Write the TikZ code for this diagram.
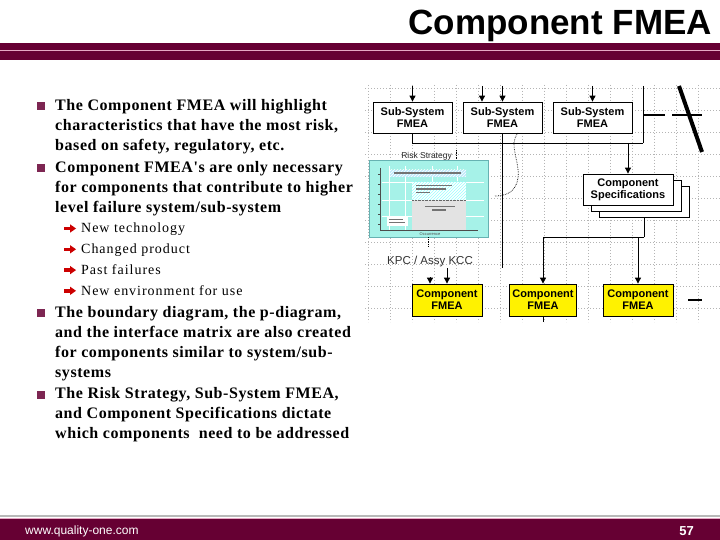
\documentclass[tikz,border=0pt]{standalone}
\usepackage{fontspec}
\setmainfont{Liberation Serif}
\newfontfamily\arialfont{Liberation Sans}
\newfontfamily\bulletfont[LetterSpace=3.5]{Liberation Serif}
\newfontfamily\subfont[LetterSpace=7]{Liberation Serif}
\usepackage{xcolor}
\usepackage{tikz}
\usetikzlibrary{calc,arrows.meta,patterns}
\definecolor{maroon}{HTML}{660033}
\definecolor{pinkline}{HTML}{E6A8C4}
\definecolor{riskcyan}{HTML}{A6F2E8}
\definecolor{gridgray}{HTML}{B4B4B4}

\begin{document}
\begin{tikzpicture}[x=1pt, y=-1pt,
  conn/.style={black, line width=0.9pt},
  arr/.style={conn, -{Triangle[width=6pt,length=6pt]}},
  dotconn/.style={black, line width=0.7pt, densely dotted},
  gridline/.style={gridgray, line width=0.7pt, dash pattern=on 1pt off 2pt},
  ssbox/.style={draw, line width=0.8pt, fill=white, minimum width=79pt, minimum height=31pt,
    inner sep=0pt, align=center, font=\arialfont\bfseries\fontsize{11}{12}\selectfont},
  cfbox/.style={ssbox, fill=yellow, minimum width=70pt, minimum height=32pt},
  sheet/.style={draw, line width=0.8pt, fill=white, minimum width=90pt, minimum height=31pt, inner sep=0pt},
  bullettext/.style={anchor=north west, inner sep=0pt, align=left,
    font=\bulletfont\bfseries\fontsize{16}{20}\selectfont},
  subtext/.style={anchor=base west, inner sep=0pt, font=\subfont\fontsize{14}{16}\selectfont}]
  \useasboundingbox (0,0) rectangle (720,540);
  \fill[white] (0,0) rectangle (720,540);
  % Header
  \node[font=\arialfont\bfseries\fontsize{35}{38}\selectfont, anchor=base east, inner sep=0pt] (title) at (712,35) {Component FMEA};
  \fill[maroon] (0,43) rectangle (720,60);
  \draw[pinkline, line width=1pt] (0,50.5) -- (720,50.5);
  % Footer
  \draw[gray!55, line width=1.5pt] (0,516) -- (720,516);
  \fill[maroon] (0,519) rectangle (720,540);
  \draw[pinkline, line width=0.8pt] (0,518.5) -- (720,518.5);
  \node[font=\arialfont\fontsize{12}{13}\selectfont, text=white, anchor=base west, inner sep=0pt] (url) at (25,534) {www.quality-one.com};
  \node[font=\arialfont\bfseries\fontsize{13}{14}\selectfont, text=white, anchor=base east, inner sep=0pt] (page) at (694,535) {57};
  % Bullets
  \fill[maroon!85] (37,102.5) rectangle (45,110.5);
  \node[bullettext] (b1) at (55,99.5) {The Component FMEA will highlight\\characteristics that have the most risk,\\based on safety, regulatory, etc.};
  \fill[maroon!85] (37,164) rectangle (45,172);
  \node[bullettext] (b2) at (55,161) {Component FMEA's are only necessary\\for components that contribute to higher\\level failure system/sub-system};
  \fill[maroon!85] (37,309) rectangle (45,317);
  \node[bullettext] (b3) at (55,306) {The boundary diagram, the p-diagram,\\and the interface matrix are also created\\for components similar to system/sub-\\systems};
  \fill[maroon!85] (37,390.5) rectangle (45,398.5);
  \node[bullettext] (b4) at (55,387.5) {The Risk Strategy, Sub-System FMEA,\\and Component Specifications dictate\\which components\ \ need to be addressed};
  % Sub bullets
  \foreach \yy/\txt/\nm in {232.7/New technology/s1, 253.5/Changed product/s2, 274.3/Past failures/s3, 295/New environment for use/s4} {
    \fill[red!80!black] (64,\yy-6) rectangle (70,\yy-2.4);
    \fill[red!80!black] (70,\yy-8.4) -- (76,\yy-4.2) -- (70,\yy) -- cycle;
    \node[subtext] (\nm) at (81,\yy) {\txt};
  }
  % Diagram background grid
  \foreach \xx in {368,390,...,720} \draw[gridline] (\xx,85) -- (\xx,322);
  \foreach \yy in {88,110,...,322} \draw[gridline] (365,\yy) -- (720,\yy);
  % Risk strategy picture
  \node[draw=teal!60, fill=riskcyan, minimum width=119pt, minimum height=77pt, inner sep=0pt] (risk) at (428.5,198.5) {};
  \foreach \xx in {389,405,432,457} \draw[white, line width=0.8pt] (\xx,166) -- (\xx,230);
  \foreach \yy in {182,200,216} \draw[white, line width=0.8pt] (382,\yy) -- (484,\yy);
  \fill[gray!22] (412,182) rectangle (466,230);
  \fill[white] (412,182) rectangle (466,200);
  \path[pattern=north east lines, pattern color=cyan!40] (412,182) rectangle (466,200);
  \draw[black!60, densely dotted] (412,200) -- (466,200);
  \fill[cyan!25] (390,170) rectangle (466,177);
  \path[pattern=north east lines, pattern color=white] (390,170) rectangle (466,177);
  \fill[black!55] (394,172.5) rectangle (461,174.5);
  \fill[black!55] (416,185) rectangle (452,186.2);
  \fill[black!55] (416,188.5) rectangle (446,189.7);
  \fill[black!55] (416,192) rectangle (430,193.2);
  \fill[black!55] (425,206) rectangle (455,207.2);
  \fill[black!55] (432,209.5) rectangle (446,210.7);
  \fill[white] (387,216) rectangle (408,226);
  \fill[black!55] (389,219) rectangle (403,220);
  \fill[black!55] (389,222) rectangle (405,223);
  \draw[black!70, line width=0.6pt] (380,168) -- (380,230) -- (478,230);
  \foreach \yy in {174,184,194,204,214,224} \draw[black!70] (378,\yy) -- (380,\yy);
  \node[font=\arialfont\fontsize{4}{4}\selectfont, text=black!70, inner sep=0pt] (occ) at (430,234.5) {Occurrence};
  \node[font=\arialfont\fontsize{8.5}{9}\selectfont, text=black!85, anchor=base east, inner sep=0pt] (risklbl) at (452,158.5) {Risk Strategy};
  \draw[dotconn] (456,150) -- (456,160);
  \draw[dotconn] (risk.south) -- ++(0,10);
  \node[font=\arialfont\fontsize{11.5}{12}\selectfont, text=black!80, inner sep=0pt] (kpc) at (430,262) {KPC / Assy KCC};
  % Sub-system FMEA boxes
  \node[ssbox] (ss1) at (412.5,117.5) {Sub-System\\FMEA};
  \node[ssbox] (ss2) at (502.5,117.5) {Sub-System\\FMEA};
  \node[ssbox] (ss3) at (592.5,117.5) {Sub-System\\FMEA};
  \coordinate (ss1in) at (412.5,86);
  \coordinate (ss2ina) at (482,86);
  \coordinate (ss2inb) at (502.5,86);
  \coordinate (ss3in) at (592.5,86);
  \draw[arr] (ss1in) -- (ss1.north);
  \draw[arr] (ss2ina) -- (ss2.north -| ss2ina);
  \draw[arr] (ss2inb) -- (ss2.north);
  \draw[arr] (ss3in) -- (ss3.north);
  % Component specifications stack
  \node[sheet] (cs3) at (644,201.5) {};
  \node[sheet] (cs2) at (636,195.5) {};
  \node[ssbox, minimum width=90pt] (cs) at (628,189.5) {Component\\Specifications};
  % Component FMEA boxes
  \node[cfbox] (cf1) at (447,300) {Component\\FMEA};
  \node[cfbox, minimum width=67pt] (cf2) at (543,300) {Component\\FMEA};
  \node[cfbox] (cf3) at (638,300) {Component\\FMEA};
  % Connectors
  \coordinate (bus) at (643,143);
  \coordinate (topr) at (643,86);
  \draw[conn] (ss1.south) |- (bus);
  \draw[conn] (topr) -- (bus);
  \draw[arr] (cs.north |- bus) -- (cs.north);
  \coordinate (ss2end) at (502.5,268);
  \draw[conn] (ss2.south) -- (ss2end);
  \coordinate (dotstart) at (518,133);
  \coordinate (dotend) at (495,196);
  \draw[dotconn] (dotstart) .. controls (508,145) and (520,160) .. (518,178) .. controls (516,192) and (506,196) .. (dotend);
  \coordinate (split) at (644,237);
  \draw[conn] (cs3.south) -- (split);
  \draw[arr] (split) -| (cf2.north);
  \draw[arr] (split) -| (cf3.north);
  \coordinate (kpcin) at (447,268);
  \coordinate (kpcin2) at (430,277);
  \draw[arr] (kpcin) -- (cf1.north);
  \draw[arr] (kpcin2) -- (cf1.north -| kpcin2);
  \draw[conn] (cf2.south) -- ++(0,6);
  % Cut-off marks at the right
  \draw[line width=4pt] (679,86) -- (702,152);
  \draw[line width=2pt] (643,115) -- (665,115);
  \draw[line width=2pt] (672,115) -- (702,115);
  \draw[line width=2pt] (688,300) -- (702,300);
\end{tikzpicture}
\end{document}
